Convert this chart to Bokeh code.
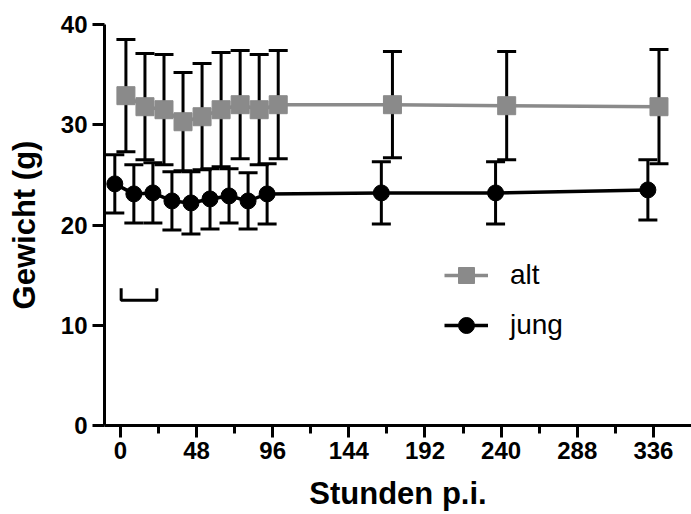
from bokeh.plotting import figure
from bokeh.models import (ColumnDataSource, Whisker, TeeHead, FixedTicker,
                          Legend, LegendItem)
from bokeh.embed import file_html
from bokeh.resources import INLINE

# ---- data ----
hours = [0, 12, 24, 36, 48, 60, 72, 84, 96, 168, 240, 336]
alt_mean = [32.9, 31.8, 31.5, 30.3, 30.8, 31.5, 32.0, 31.5, 32.0, 32.0, 31.9, 31.8]
alt_sd = [5.6, 5.3, 5.5, 4.9, 5.3, 5.7, 5.4, 5.5, 5.4, 5.3, 5.4, 5.7]
jung_mean = [24.1, 23.1, 23.2, 22.4, 22.2, 22.6, 22.9, 22.4, 23.1, 23.2, 23.2, 23.5]
jung_sd = [2.9, 2.9, 3.0, 2.9, 3.1, 3.0, 2.7, 2.8, 3.0, 3.1, 3.1, 3.0]
x_ticks = [0, 48, 96, 144, 192, 240, 288, 336]
x_minor = [24, 72, 120, 168, 216, 264, 312]
y_ticks = [0, 10, 20, 30, 40]
bracket_x = [0.5, 0.5, 23, 23]
bracket_y = [13.7, 12.5, 12.5, 13.7]
x_title = "Stunden p.i."
y_title = "Gewicht (g)"

dodge = 3.5
GREY = "#8a8a8a"
FONT = "Liberation Sans"

alt_src = ColumnDataSource(dict(
    x=[h + dodge for h in hours], y=alt_mean,
    lo=[m - s for m, s in zip(alt_mean, alt_sd)],
    hi=[m + s for m, s in zip(alt_mean, alt_sd)]))
jung_src = ColumnDataSource(dict(
    x=[h - dodge for h in hours], y=jung_mean,
    lo=[m - s for m, s in zip(jung_mean, jung_sd)],
    hi=[m + s for m, s in zip(jung_mean, jung_sd)]))

p = figure(width=691, height=514, x_range=(-10, 360), y_range=(0, 40),
           output_backend="svg", toolbar_location=None,
           min_border_left=104, min_border_right=0, min_border_top=24,
           min_border_bottom=89)
p.grid.visible = False
p.outline_line_color = None
p.background_fill_color = "white"
p.border_fill_color = "white"

for src in (alt_src, jung_src):
    w = Whisker(source=src, base="x", upper="hi", lower="lo", dimension="height",
                line_color="black", line_width=3,
                upper_head=TeeHead(size=19, line_width=3, line_color="black"),
                lower_head=TeeHead(size=19, line_width=3, line_color="black"))
    p.add_layout(w)

p.line(bracket_x, bracket_y, line_color="black", line_width=3)

alt_line = p.line("x", "y", source=alt_src, line_color=GREY, line_width=3.5)
jung_line = p.line("x", "y", source=jung_src, line_color="black", line_width=3.5)
alt_pts = p.scatter("x", "y", source=alt_src, marker="square", size=18,
                    fill_color=GREY, line_color=GREY)
jung_pts = p.scatter("x", "y", source=jung_src, marker="circle", size=16,
                     fill_color="black", line_color="black")

legend = Legend(items=[LegendItem(label="alt", renderers=[alt_line, alt_pts]),
                       LegendItem(label="jung", renderers=[jung_line, jung_pts])],
                location=(340, 80), padding=0, margin=0, spacing=10,
                glyph_width=44, glyph_height=40, label_height=40,
                label_standoff=22, border_line_color=None,
                background_fill_alpha=0,
                label_text_font=FONT, label_text_font_size="28px",
                label_text_color="black")
p.add_layout(legend, "center")

for ax in (p.xaxis[0], p.yaxis[0]):
    ax.axis_line_width = 3
    ax.major_tick_line_width = 3
    ax.minor_tick_line_width = 3
    ax.major_tick_in = 0
    ax.major_tick_out = 12
    ax.major_label_text_font = FONT
    ax.major_label_text_font_style = "bold"
    ax.major_label_text_font_size = "24px"
    ax.major_label_text_color = "black"
    ax.axis_label_text_font = FONT
    ax.axis_label_text_font_style = "bold"
    ax.axis_label_text_font_size = "31px"
    ax.axis_label_text_color = "black"

p.xaxis.ticker = FixedTicker(ticks=x_ticks, minor_ticks=x_minor)
p.xaxis.minor_tick_in = 0
p.xaxis.minor_tick_out = 8
p.xaxis.major_label_standoff = 4
p.xaxis.axis_label = x_title
p.xaxis.axis_label_standoff = 14

p.yaxis.ticker = FixedTicker(ticks=y_ticks)
p.yaxis.minor_tick_line_color = None
p.yaxis.major_label_standoff = 5
p.yaxis.axis_label = y_title
p.yaxis.axis_label_standoff = 16

open("out.html", "w").write(file_html(p, INLINE))
